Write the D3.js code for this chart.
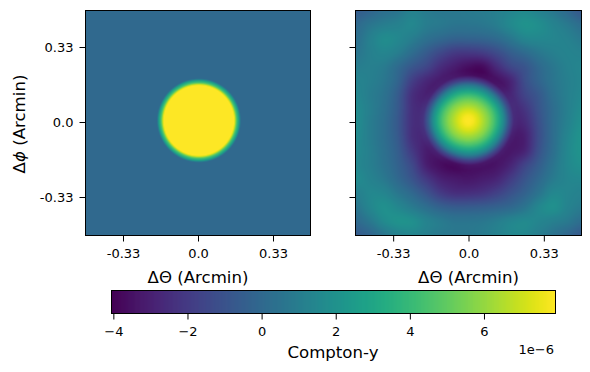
<!DOCTYPE html>
<html>
<head>
<meta charset="utf-8">
<script src="https://d3js.org/d3.v7.min.js"></script>
<style>
  body { margin: 0; background: #fff; }
  text { font-family: "DejaVu Sans", sans-serif; fill: #000; }
  .domain, .tick line { stroke: #000; stroke-width: 1; }
</style>
</head>
<body>
<div id="chart"></div>
<script>
// tick labels
var mapTicks = [-0.33, 0, 0.33];
var mapTickLabels = ["-0.33", "0.0", "0.33"];
var barTicks = [-4, -2, 0, 2, 4, 6];

// colour limits, units of 1e-6
var yMin = -4.05,
  yMax = 7.93;

// left map: radial profile of the disc (arcmin, 1e-6)
var discRadius = [0, 0.155, 0.16, 0.165, 0.17, 0.175, 0.18, 0.184];
var discValue = [7.93, 7.93, 6.6, 4.8, 3.9, 3, 1.6, 0];
var discCentre = [0.004, 0.011];

// right map: central peak above the dark ring, radial (arcmin, 1e-6)
var coreRadius = [0, 0.022, 0.044, 0.066, 0.088, 0.11, 0.132, 0.154, 0.176, 0.198, 0.22];
var coreValue = [11.4, 11.2, 10.6, 9.8, 9, 7.9, 6.5, 4.7, 2.1, 0.3, 0];
var coreCentre = [0, 0.012];

// right map: everything around the peak on a 17x17 grid, top row first (1e-6)
var reconGrid = [
  [-0.6, -0.2, 0.3, 0.6, 1.2, 0.9, 0.7, 0.7, 0.8, 0.9, 1.1, 1.4, 1.6, 1.2, 0.7, 0, -0.8],
  [0, 0.6, 1, 1.2, 1.5, 1, 0.8, 0.6, 0.6, 0.7, 1, 1.6, 2, 1.8, 1.3, 0.8, 0.2],
  [0.3, 1.1, 1.7, 1.5, 1, 0.4, 0, -0.3, -0.3, -0.2, 0.1, 0.7, 1.4, 1.5, 1.4, 1.2, 0.8],
  [0.6, 1.1, 1.4, 1, 0.2, -0.6, -1.4, -2, -2.1, -1.9, -1.3, -0.5, 0.1, 0.7, 1.1, 1.3, 1.2],
  [1, 1.1, 0.9, 0.1, -0.8, -1.5, -2.5, -3.1, -3.6, -3.7, -2.6, -1.5, -0.9, 0, 0.7, 1.2, 1.4],
  [1.3, 1.1, 0.7, -0.2, -1.8, -2.7, -3.2, -3.6, -3.9, -3.9, -3.6, -2.8, -1.2, -0.2, 0.6, 1.1, 1.4],
  [1.5, 1, 0.5, -0.6, -2.4, -3, -3.4, -3.6, -3.7, -3.7, -3.6, -2.8, -1.6, -0.7, 0.4, 1.1, 1.5],
  [1.7, 1.1, 0.4, -0.7, -2.4, -2.7, -3.1, -3.4, -3.5, -3.5, -3.3, -2.9, -2.2, -0.9, 0.2, 1.1, 1.7],
  [1.8, 1, 0.3, -0.8, -2.4, -2.6, -3, -3.3, -3.4, -3.4, -3.3, -3, -2.6, -1.1, 0.2, 1.2, 1.9],
  [1.7, 1, 0.3, -0.7, -2.4, -2.8, -3.1, -3.3, -3.4, -3.4, -3.4, -3.3, -3, -1.2, 0.2, 1.4, 2.1],
  [1.6, 1.1, 0.4, -0.5, -2, -3.1, -3.3, -3.6, -3.6, -3.5, -3.4, -3.3, -2.8, -1, 0.3, 1.5, 2.1],
  [1.5, 1.1, 0.5, -0.3, -1.4, -3, -3.6, -3.9, -3.7, -3.6, -3.4, -2.8, -1.6, -0.5, 0.6, 1.5, 1.9],
  [1.7, 1.3, 0.8, 0, -0.9, -2, -2.9, -3.2, -3.3, -3.1, -2.8, -1.9, -0.9, 0, 0.9, 1.4, 1.5],
  [1.1, 1.5, 1.4, 0.7, 0, -0.9, -1.9, -2.4, -2.4, -2.2, -1.7, -1, -0.3, 0.6, 1.5, 1.4, 1.2],
  [0.6, 1.4, 1.9, 1.5, 0.9, 0.3, -0.3, -0.6, -0.6, -0.5, -0.3, 0, 0.6, 1.5, 1.9, 1.3, 0.9],
  [0, 0.7, 1.6, 2, 1.9, 1.3, 0.9, 0.6, 0.6, 0.7, 1, 1.4, 1.6, 1.4, 1.1, 0.8, 0.2],
  [-0.6, -0.2, 0.6, 1.2, 1.4, 1.1, 0.8, 0.7, 0.7, 0.9, 1.2, 1.5, 1.5, 1, 0.5, -0.1, -0.7]
];

var width = 590,
  height = 372,
  mapW = 225,
  mapTop = 10.5,
  leftX = 85.5,
  rightX = 355.5,
  rightW = 226;

var svg = d3
  .select("#chart")
  .append("svg")
  .attr("width", width)
  .attr("height", height)
  .style("display", "block");

var color = d3.scaleSequential(d3.interpolateViridis).domain([yMin, yMax]);

var xLeft = d3.scaleLinear().domain([-0.495, 0.495]).range([0, mapW]);
var xRight = d3.scaleLinear().domain([-0.495, 0.495]).range([0, rightW]);
var y = d3.scaleLinear().domain([0.495, -0.495]).range([0, mapW]);

// paint value(px, py) into a canvas and hand it back as a data url
function paint(w, h, value) {
  var canvas = document.createElement("canvas");
  canvas.width = w;
  canvas.height = h;
  var ctx = canvas.getContext("2d");
  var img = ctx.createImageData(w, h);
  for (var py = 0; py < h; py++) {
    for (var px = 0; px < w; px++) {
      var c = d3.rgb(color(value(px + 0.5, py + 0.5)));
      var k = (py * w + px) * 4;
      img.data[k] = c.r;
      img.data[k + 1] = c.g;
      img.data[k + 2] = c.b;
      img.data[k + 3] = 255;
    }
  }
  ctx.putImageData(img, 0, 0);
  return canvas.toDataURL();
}

// bicubic resampling of the grid, same as imshow interpolation
function cubic(p0, p1, p2, p3, t) {
  return (
    p1 +
    0.5 * t * (p2 - p0 + t * (2 * p0 - 5 * p1 + 4 * p2 - p3 + t * (3 * (p1 - p2) + p3 - p0)))
  );
}

function gridAt(gx, gy) {
  var n = reconGrid.length - 1;
  var ix = Math.min(Math.floor(gx), n - 1),
    iy = Math.min(Math.floor(gy), n - 1);
  var cell = function(r, c) {
    return reconGrid[Math.max(0, Math.min(n, r))][Math.max(0, Math.min(n, c))];
  };
  var rows = [-1, 0, 1, 2].map(function(dr) {
    return cubic(
      cell(iy + dr, ix - 1),
      cell(iy + dr, ix),
      cell(iy + dr, ix + 1),
      cell(iy + dr, ix + 2),
      gx - ix
    );
  });
  return cubic(rows[0], rows[1], rows[2], rows[3], gy - iy);
}

var profile = d3.scaleLinear().domain(discRadius).range(discValue).clamp(true);
var core = d3.scaleLinear().domain(coreRadius).range(coreValue).clamp(true);
var gridX = d3.scaleLinear().domain([0, rightW]).range([0, reconGrid.length - 1]);
var gridY = d3.scaleLinear().domain([0, mapW]).range([0, reconGrid.length - 1]);

function drawPanel(x0, xScale, w, href, showY) {
  var g = svg
    .append("g")
    .attr("transform", "translate(" + x0 + "," + mapTop + ")");

  g.append("image")
    .attr("width", w)
    .attr("height", mapW)
    .attr("href", href);

  g.append("rect")
    .attr("width", w)
    .attr("height", mapW)
    .attr("fill", "none")
    .attr("stroke", "#000");

  var xAxis = d3
    .axisBottom(xScale)
    .tickValues(mapTicks)
    .tickFormat(function(d, i) {
      return mapTickLabels[i];
    })
    .tickSize(6)
    .tickPadding(7);
  var yAxis = d3
    .axisLeft(y)
    .tickValues(mapTicks)
    .tickFormat(function(d, i) {
      return showY ? mapTickLabels[i] : "";
    })
    .tickSize(6)
    .tickPadding(6);

  g.append("g")
    .attr("transform", "translate(0," + mapW + ")")
    .call(xAxis)
    .call(function(a) {
      a.select(".domain").remove();
    })
    .selectAll("text")
    .attr("font-size", 13);
  //y ticks sit a pixel higher than the image centre in the reference
  g.append("g")
    .attr("transform", "translate(0,-1)")
    .call(yAxis)
    .call(function(a) {
      a.select(".domain").remove();
    })
    .selectAll("text")
    .attr("font-size", 13);

  g.append("text")
    .attr("x", w / 2)
    .attr("y", mapW + 47)
    .attr("text-anchor", "middle")
    .attr("font-size", 16.6)
    .text("\u0394\u0398 (Arcmin)");
}

var leftHref = paint(mapW, mapW, function(px, py) {
  var dx = xLeft.invert(px) - discCentre[0],
    dy = y.invert(py) - discCentre[1];
  return profile(Math.sqrt(dx * dx + dy * dy));
});

var rightHref = paint(rightW, mapW, function(px, py) {
  var dx = xRight.invert(px) - coreCentre[0],
    dy = y.invert(py) - coreCentre[1];
  return gridAt(gridX(px), gridY(py)) + core(Math.sqrt(dx * dx + dy * dy));
});

drawPanel(leftX, xLeft, mapW, leftHref, true);
drawPanel(rightX, xRight, rightW, rightHref, false);

// y label with the math-italic phi
var yLabel = svg
  .append("text")
  .attr("transform", "translate(25,124) rotate(-90)")
  .attr("text-anchor", "middle")
  .attr("font-size", 16.6);
yLabel.append("tspan").text("\u0394");
yLabel.append("tspan").attr("font-style", "italic").text("\u03d5");
yLabel.append("tspan").text(" (Arcmin)");

// colorbar
var barX = 111.5,
  barY = 290.5,
  barW = 444,
  barH = 23;

var barScale = d3.scaleLinear().domain([yMin, yMax]).range([0, barW]);
var bar = svg
  .append("g")
  .attr("transform", "translate(" + barX + "," + barY + ")");

bar
  .selectAll("rect")
  .data(d3.range(0, barW))
  .enter()
  .append("rect")
  .attr("x", function(d) {
    return d;
  })
  .attr("width", 1.5)
  .attr("height", barH)
  .attr("fill", function(d) {
    return color(barScale.invert(d + 0.5));
  });

bar
  .append("rect")
  .attr("width", barW)
  .attr("height", barH)
  .attr("fill", "none")
  .attr("stroke", "#000");

bar
  .append("g")
  .attr("transform", "translate(0," + barH + ")")
  .call(
    d3
      .axisBottom(barScale)
      .tickValues(barTicks)
      .tickFormat(function(d) {
        return d < 0 ? "\u2212" + Math.abs(d) : d;
      })
      .tickSize(6)
      .tickPadding(7)
  )
  .call(function(a) {
    a.select(".domain").remove();
  })
  .selectAll("text")
  .attr("font-size", 13);

svg
  .append("text")
  .attr("x", 333)
  .attr("y", 357.5)
  .attr("text-anchor", "middle")
  .attr("font-size", 16.6)
  .text("Compton-y");

svg
  .append("text")
  .attr("x", 554)
  .attr("y", 354)
  .attr("text-anchor", "end")
  .attr("font-size", 13)
  .text("1e\u22126");
</script>
</body>
</html>
